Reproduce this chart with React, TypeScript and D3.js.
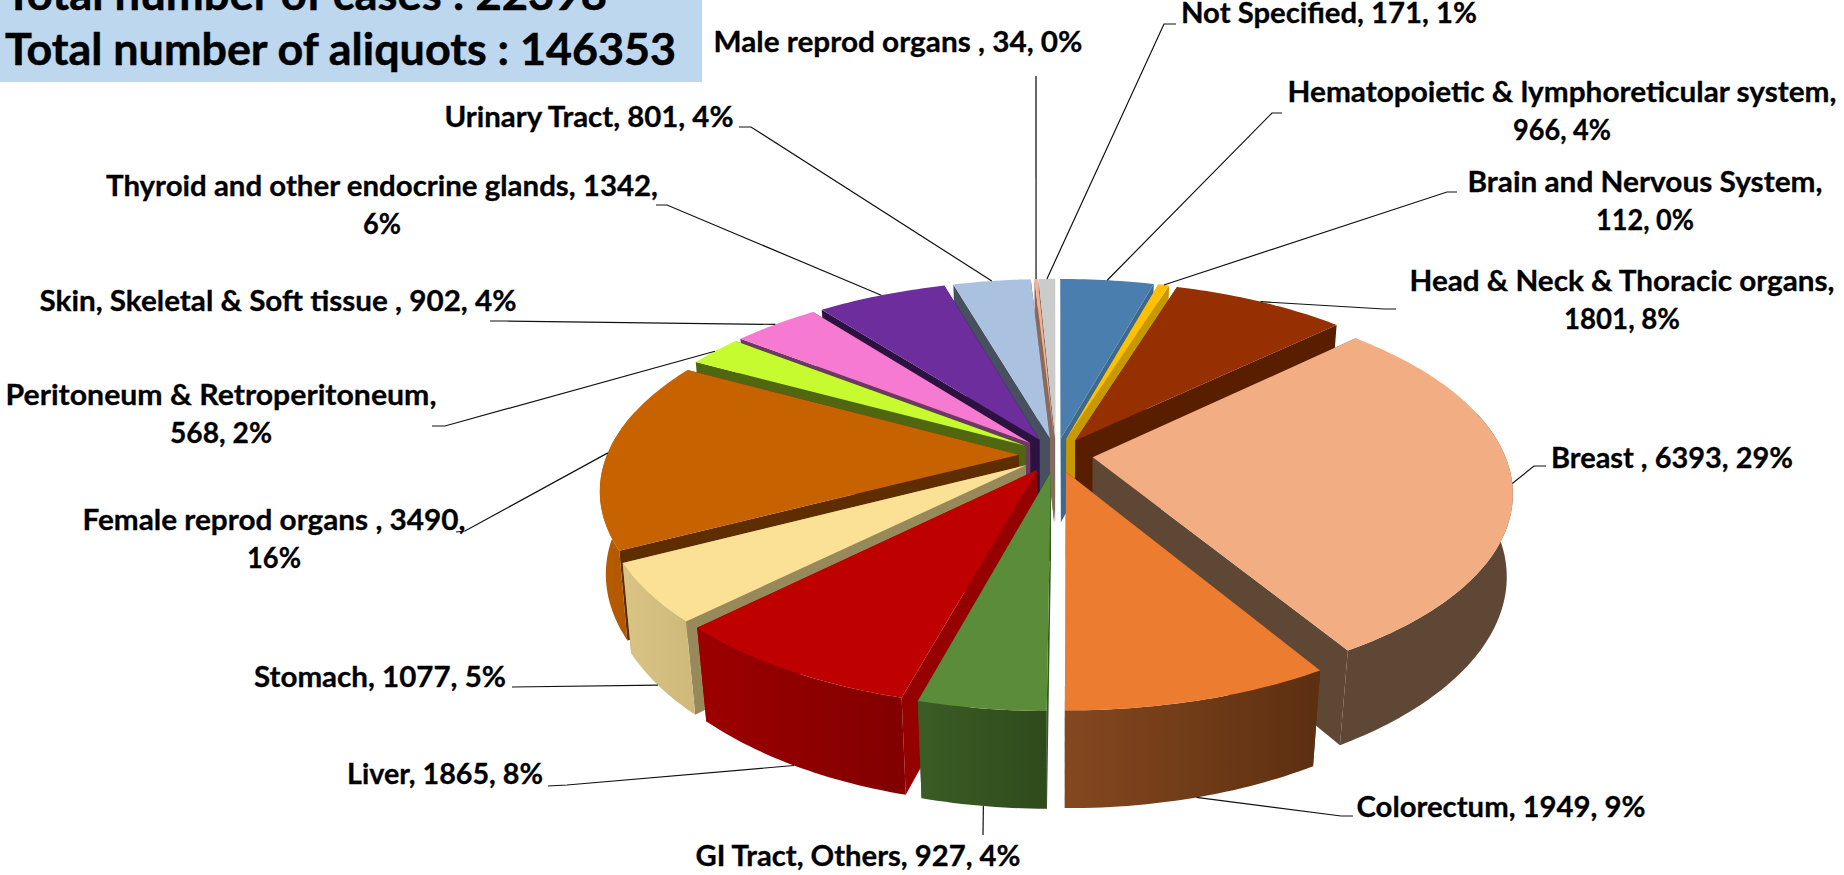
import React from 'react';
import * as d3 from 'd3';

const categories = [
  'Hematopoietic & lymphoreticular system', 'Brain and Nervous System', 'Head & Neck & Thoracic organs',
  'Breast ', 'Colorectum', 'GI Tract, Others', 'Liver', 'Stomach', 'Female reprod organs ',
  'Peritoneum & Retroperitoneum', 'Skin, Skeletal & Soft tissue ', 'Thyroid and other endocrine glands',
  'Urinary Tract', 'Male reprod organs ', 'Not Specified',
];
const values = [966, 112, 1801, 6393, 1949, 927, 1865, 1077, 3490, 568, 902, 1342, 801, 34, 171];
const percents = [4, 0, 8, 29, 9, 4, 8, 5, 16, 2, 4, 6, 4, 0, 1];
const titleLines = ['Total number of cases : 22398', 'Total number of aliquots : 146353'];

const topColors = ['#4a7eae', '#ffc000', '#963000', '#f2ae82', '#eb7c30', '#5a8c39', '#bf0000', '#fae196', '#c66300', '#c5fb2f', '#f67ad2', '#6d2d9c', '#abc1e0', '#f4b090', '#cbcbcb'];
const wallColors = ['#3c6990', '#c89800', '#591d00', '#5f4736', '#5f3012', '#37581f', '#950000', '#98895a', '#5e2e00', '#516610', '#6b3a60', '#2c1240', '#46505e', '#8a6a5c', '#7a6a60'];
const sideFrom = ['#3c6990', '#c89800', '#591d00', '#5f4736', '#84481f', '#3b5d25', '#9c0000', '#d9c486', '#b85c00', '#516610', '#6b3a60', '#2c1240', '#46505e', '#8a6a5c', '#7a6a60'];
const sideTo = ['#3c6990', '#c89800', '#591d00', '#5f4736', '#5c2f11', '#2f4a1c', '#820000', '#cfba7c', '#b05600', '#516610', '#6b3a60', '#2c1240', '#46505e', '#8a6a5c', '#7a6a60'];

// label text position: centre x, first baseline, width of the first line, width of the second, where the text wraps
const labelLayout = [
  { x: 1562, y: 102, w: 549, w2: 98, wrap: 'pct+value' },
  { x: 1645, y: 192, w: 355, w2: 98, wrap: 'pct+value' },
  { x: 1622, y: 291, w: 425, w2: 116, wrap: 'pct+value' },
  { x: 1672, y: 468, w: 242, w2: 0, wrap: '' },
  { x: 1501, y: 817, w: 289, w2: 0, wrap: '' },
  { x: 858, y: 866, w: 325, w2: 0, wrap: '' },
  { x: 445, y: 784, w: 196, w2: 0, wrap: '' },
  { x: 380, y: 687, w: 252, w2: 0, wrap: '' },
  { x: 274, y: 530, w: 383, w2: 54, wrap: 'pct' },
  { x: 221, y: 405, w: 431, w2: 102, wrap: 'pct+value' },
  { x: 278, y: 311, w: 477, w2: 0, wrap: '' },
  { x: 382, y: 196, w: 552, w2: 38, wrap: 'pct' },
  { x: 589, y: 127, w: 289, w2: 0, wrap: '' },
  { x: 898, y: 52, w: 369, w2: 0, wrap: '' },
  { x: 1329, y: 23, w: 296, w2: 0, wrap: '' },
];

// leader lines: the points after the slice rim, and whether they start on the lower rim
const leaderLayout = [
  { pts: [[1272, 113], [1282, 113]], low: false },
  { pts: [[1447, 192], [1457, 192]], low: false },
  { pts: [[1384, 309], [1396, 309]], low: false },
  { pts: [[1534, 466], [1546, 466]], low: false },
  { pts: [[1341, 816], [1353, 816]], low: true },
  { pts: [[983, 835]], low: true },
  { pts: [[567, 785], [548, 786]], low: true },
  { pts: [[512, 687]], low: true },
  { pts: [[465, 531], [456, 532]], low: false },
  { pts: [[445, 426], [432, 426]], low: false },
  { pts: [[506, 321], [490, 321]], low: false },
  { pts: [[667, 205], [656, 205]], low: false },
  { pts: [[751, 127], [739, 127]], low: false },
  { pts: [[1036, 76]], low: false },
  { pts: [[1164, 24], [1176, 24]], low: false },
];

const width = 1844;
const height = 875;
const cx = 1056;
const cy = 455;
const radius = 412;
const explode = 37;
const tilt = 0.465;
const persp = 0.17;
const depth = 85;
const font = 'Lato, sans-serif';

const project = (px: number, py: number, low: boolean) => {
  const s = 1 / (1 + (persp * py) / radius);
  const x = cx + px * s;
  const y = cy - py * s * tilt;
  if (!low) return [x, y];
  const inset = 0.99 - 0.017 * Math.min(1, Math.abs(y - cy) / 190);
  return [cx + (x - cx) * inset, y + depth + (y - cy) * 0.05];
};

const pie = d3.pie<number>().sort(null).startAngle(0).endAngle(2 * Math.PI);
const arcs = pie(values);
const line = d3.line();

export default function App() {
  const slices = arcs.map((a, i) => {
    const mid = (a.startAngle + a.endAngle) / 2;
    const ox = explode * Math.sin(mid);
    const oy = explode * Math.cos(mid);
    const rim = (t: number, low: boolean) => project(ox + radius * Math.sin(t), oy + radius * Math.cos(t), low);
    const apex = (low: boolean) => project(ox, oy, low);
    const steps = d3.range(a.startAngle, a.endAngle, Math.PI / 180).concat(a.endAngle);

    const wall = (t: number) => line([apex(false), apex(true), rim(t, true), rim(t, false)]) + 'Z';
    // the wall that faces the viewer goes last
    const startFaces = Math.sin(a.startAngle) < 0;
    const walls = startFaces
      ? [wall(a.endAngle), wall(a.startAngle)]
      : [wall(a.startAngle), wall(a.endAngle)];

    const front = steps.filter(t => Math.cos(t) < 0.25);
    const side = front.length > 1
      ? line([...front.map(t => rim(t, false)), ...front.slice().reverse().map(t => rim(t, true))]) + 'Z'
      : null;
    const xs = front.map(t => rim(t, false)[0]);
    const top = line([apex(false), ...steps.map(t => rim(t, false))]) + 'Z';

    const lead = leaderLayout[i];
    const leader = line([rim(mid, lead.low), ...(lead.pts as [number, number][])]);
    return { i, mid, walls, side, top, leader, x1: d3.min(xs) ?? 0, x2: d3.max(xs) ?? 1 };
  });

  const order = slices.slice().sort((p, q) => Math.cos(q.mid) - Math.cos(p.mid));

  const labelLines = categories.map((c, i) => {
    const w = labelLayout[i].wrap;
    if (w === 'pct') return [`${c}, ${values[i]},`, `${percents[i]}%`];
    if (w === 'pct+value') return [`${c},`, `${values[i]}, ${percents[i]}%`];
    return [`${c}, ${values[i]}, ${percents[i]}%`];
  });

  return (
    <svg width={width} height={height} style={{ position: 'absolute', left: 0, top: 0, background: '#fff' }}>
      <defs>
        {slices.map(s => (
          <linearGradient key={s.i} id={`side${s.i}`} gradientUnits="userSpaceOnUse" x1={s.x1} x2={s.x2} y1={0} y2={0}>
            <stop offset="0" stopColor={sideFrom[s.i]} />
            <stop offset="1" stopColor={sideTo[s.i]} />
          </linearGradient>
        ))}
      </defs>

      <rect x={0} y={0} width={702} height={82} fill="#bdd7ee" />
      {titleLines.map((t, i) => (
        <text key={t} x={5} y={10 + i * 55} fontFamily={font} fontWeight={700} fontSize={44}
          stroke="#000" strokeWidth={0.5}
          textLength={i === 0 ? 602 : 671} lengthAdjust="spacingAndGlyphs">{t}</text>
      ))}

      {order.map(s => (
        <g key={s.i}>
          {s.walls.map((d, j) => <path key={j} d={d} fill={wallColors[s.i]} />)}
          {s.side && <path d={s.side} fill={`url(#side${s.i})`} />}
          <path d={s.top} fill={topColors[s.i]} />
        </g>
      ))}

      {slices.map(s => (
        <path key={s.i} d={s.leader ?? ''} fill="none" stroke="#111" strokeWidth={1.2} />
      ))}

      {labelLines.map((lines, i) => lines.map((t, j) => (
        <text key={j} x={labelLayout[i].x} y={labelLayout[i].y + j * 38} textAnchor="middle"
          fontFamily={font} fontWeight={700} fontSize={29} fill="#000" stroke="#000" strokeWidth={0.3}
          textLength={j === 0 ? labelLayout[i].w : labelLayout[i].w2} lengthAdjust="spacingAndGlyphs">{t}</text>
      )))}
    </svg>
  );
}
